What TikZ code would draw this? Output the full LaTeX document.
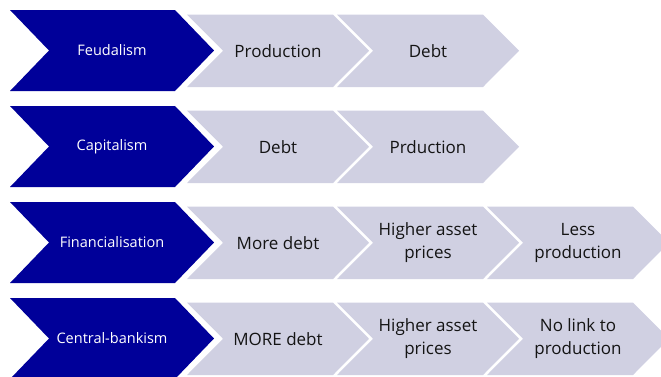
\documentclass[tikz,border=0pt]{standalone}
\usepackage{fontspec}
\setmainfont{Open Sans}
\definecolor{navy}{RGB}{0,0,153}
\definecolor{lav}{RGB}{208,208,226}
\definecolor{txt}{RGB}{20,20,20}
\begin{document}
\begin{tikzpicture}[x=1pt,y=-1pt,
  bluechev/.style={fill=navy},
  graychev/.style={fill=lav},
  bluelbl/.style={text=white,font=\fontsize{14.5}{17}\selectfont,align=center},
  graylbl/.style={text=txt,font=\fontsize{17}{23}\selectfont,align=center}]
\useasboundingbox (0,0) rectangle (661,376);
\begin{scope}
\clip (0,0) rectangle (661,376);
\foreach \r/\lab in {0/Feudalism,1/Capitalism,2/Financialisation,3/Central-bankism}{
  \pgfmathsetmacro\t{10+96*\r}
  \fill[bluechev] (10,\t) -- (175,\t) -- (214,\t+40.5) -- (175,\t+81) -- (10,\t+81) -- (49,\t+40.5) -- cycle;
  \node[bluelbl] (b\r) at (112,\t+40.5) {\lab};
}
\foreach \r/\c/\lab in {0/0/Production,0/1/Debt,1/0/Debt,1/1/Prduction,2/0/More debt,2/1/Higher asset\\prices,2/2/Less\\production,3/0/MORE debt,3/1/Higher asset\\prices,3/2/No link to\\production}{
  \pgfmathsetmacro\t{14.5+96*\r}
  \pgfmathsetmacro\L{187+150*\c}
  \fill[graychev] (\L,\t) -- (\L+146,\t) -- (\L+182,\t+36.25) -- (\L+146,\t+72.5) -- (\L,\t+72.5) -- (\L+36,\t+36.25) -- cycle;
  \node[graylbl] (g\r\c) at (\L+91,\t+36.25) {\lab};
}
\end{scope}
\end{tikzpicture}
\end{document}
